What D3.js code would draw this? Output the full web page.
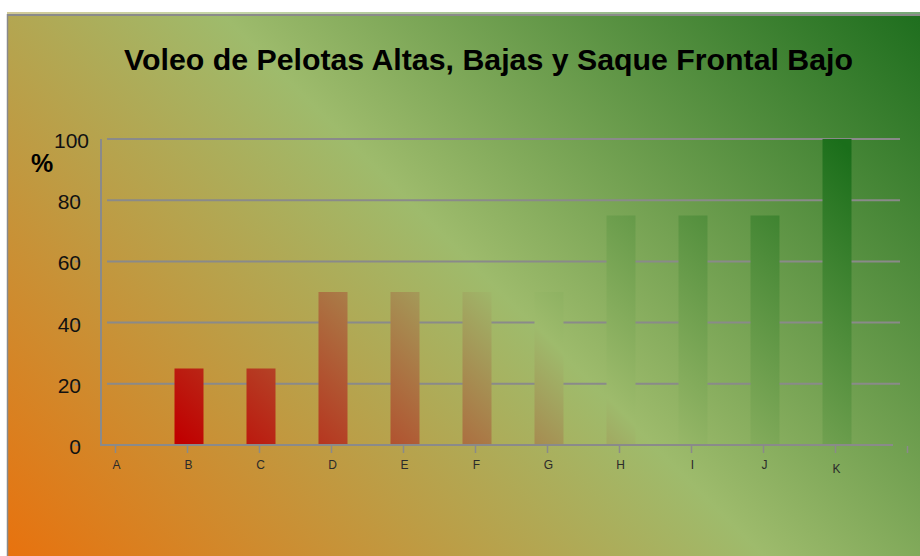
<!doctype html>
<html lang="es">
<head>
	<meta charset="UTF-8">
	<title>Voleo de Pelotas Altas, Bajas y Saque Frontal Bajo</title>
	<style>
		html, body {
			margin: 0;
			padding: 0;
			background: #fff;
		}

		svg {
			display: block;
			font-family: "Liberation Sans", Arial, sans-serif;
		}

		.grid line {
			stroke: #8a8a8a;
			stroke-width: 2;
		}

		.axis-line {
			stroke: #8a8a8a;
			stroke-width: 2;
		}

		.y-label {
			font-size: 21px;
			fill: #111;
			text-anchor: end;
		}

		.x-label {
			font-size: 12px;
			fill: #2a2a2a;
			text-anchor: middle;
		}
	</style>
</head>
<body>
	<script src="https://cdn.jsdelivr.net/npm/d3@7/dist/d3.min.js"></script>
	<script>
		var categories = ['A', 'B', 'C', 'D', 'E', 'F', 'G', 'H', 'I', 'J', 'K'],
			values = [0, 25, 25, 50, 50, 50, 50, 75, 75, 75, 100],
			yTicks = [0, 20, 40, 60, 80, 100],
			titleText = 'Voleo de Pelotas Altas, Bajas y Saque Frontal Bajo',
			yUnit = '%';

		var w = 920,
			h = 556,
			barWidth = 29;

		var svg = d3.select('body')
			.append('svg')
			.attr('width', w)
			.attr('height', h);

		var xScale = d3.scalePoint()
			.domain(categories)
			.range([115.5, 835.5]);

		var yScale = d3.scaleLinear()
			.domain([0, 100])
			.range([445, 139]);

		var defs = svg.append('defs');

		/**
		* add a diagonal (45 deg) gradient in user space
		* @param {string} id Gradient id
		* @param {array} from Start point [x, y]
		* @param {number} d Length along x (and -y)
		* @param {array} stops List of [offset, color]
		*/
		var addGradient = function(id, from, d, stops) {
			var g = defs.append('linearGradient')
				.attr('id', id)
				.attr('gradientUnits', 'userSpaceOnUse')
				.attr('x1', from[0])
				.attr('y1', from[1])
				.attr('x2', from[0] + d)
				.attr('y2', from[1] - d);

			g.selectAll('stop')
				.data(stops)
				.enter()
				.append('stop')
				.attr('offset', function(s) { return s[0]; })
				.attr('stop-color', function(s) { return s[1]; });
		};

		addGradient('bgGrad', [7, 556], 728, [
			[0, '#e8720e'],
			[0.52, '#9ebb6c'],
			[1, '#1e6e1e']
		]);

		addGradient('barGrad', [185, 445], 480, [
			[0, '#c00000'],
			[0.49, '#9ebb6c'],
			[1, '#1a6e1a']
		]);

		// panel background + frame
		svg.append('rect')
			.attr('x', 7)
			.attr('y', 12)
			.attr('width', w - 7)
			.attr('height', 2)
			.attr('fill', 'url(#bgGrad)')
			.attr('opacity', 0.6);

		svg.append('rect')
			.attr('x', 7)
			.attr('y', 14)
			.attr('width', w - 7)
			.attr('height', h - 14)
			.attr('fill', 'url(#bgGrad)');

		svg.append('line')
			.attr('x1', 7).attr('x2', w)
			.attr('y1', 15).attr('y2', 15)
			.attr('stroke', '#8a8a8a')
			.attr('stroke-width', 2);

		svg.append('line')
			.attr('x1', 7.5).attr('x2', 7.5)
			.attr('y1', 14).attr('y2', h)
			.attr('stroke', '#8a8a8a')
			.attr('stroke-width', 1.5);

		// title
		svg.append('text')
			.attr('x', 488.5)
			.attr('y', 70)
			.attr('text-anchor', 'middle')
			.attr('font-size', 29)
			.attr('font-weight', 'bold')
			.attr('fill', '#000')
			.attr('textLength', 729)
			.attr('lengthAdjust', 'spacingAndGlyphs')
			.text(titleText);

		// gridlines
		svg.append('g')
			.attr('class', 'grid')
			.selectAll('line')
			.data(yTicks.filter(function(d) { return d > 0; }))
			.enter()
			.append('line')
			.attr('x1', 107)
			.attr('x2', 900)
			.attr('y1', function(d) { return yScale(d); })
			.attr('y2', function(d) { return yScale(d); });

		// bars
		svg.append('g')
			.selectAll('rect')
			.data(values)
			.enter()
			.append('rect')
			.attr('x', function(d, i) {
				return xScale(categories[i]) + 1.5 - barWidth / 2;
			})
			.attr('y', function(d) { return yScale(d); })
			.attr('width', barWidth)
			.attr('height', function(d) { return yScale(0) - yScale(d); })
			.attr('fill', 'url(#barGrad)');

		// y axis
		svg.append('line')
			.attr('class', 'axis-line')
			.attr('x1', 101).attr('x2', 101)
			.attr('y1', yScale(100)).attr('y2', yScale(0) + 1);

		var yAxis = svg.append('g');

		yAxis.selectAll('line')
			.data(yTicks)
			.enter()
			.append('line')
			.attr('x1', 75)
			.attr('x2', 79)
			.attr('y1', function(d) { return yScale(d); })
			.attr('y2', function(d) { return yScale(d); })
			.attr('stroke', '#8a8a8a')
			.attr('stroke-width', 2);

		// top label sits a bit further right, like in the original
		yAxis.selectAll('text')
			.data(yTicks)
			.enter()
			.append('text')
			.attr('class', 'y-label')
			.attr('x', function(d) { return d === 100 ? 89 : 81; })
			.attr('y', function(d) { return yScale(d) + 9; })
			.text(function(d) { return d; });

		svg.append('text')
			.attr('x', 31)
			.attr('y', 172)
			.attr('font-size', 25)
			.attr('font-weight', 'bold')
			.attr('fill', '#000')
			.text(yUnit);

		// x axis
		svg.append('line')
			.attr('class', 'axis-line')
			.attr('x1', 100).attr('x2', 893)
			.attr('y1', yScale(0)).attr('y2', yScale(0));

		var xTickPos = categories.map(function(c) { return xScale(c); });
		xTickPos.push(xScale(categories[categories.length - 1]) + xScale.step());

		svg.append('g')
			.selectAll('line')
			.data(xTickPos)
			.enter()
			.append('line')
			.attr('x1', function(d) { return d; })
			.attr('x2', function(d) { return d; })
			.attr('y1', yScale(0) + 1)
			.attr('y2', yScale(0) + 8)
			.attr('stroke', '#8a8a8a')
			.attr('stroke-width', 1.5);

		svg.append('g')
			.selectAll('text')
			.data(categories)
			.enter()
			.append('text')
			.attr('class', 'x-label')
			.attr('x', function(d) { return xScale(d) + 1; })
			.attr('y', function(d, i) {
				return i === categories.length - 1 ? 473 : 469;
			})
			.text(function(d) { return d; });
	</script>
</body>
</html>
